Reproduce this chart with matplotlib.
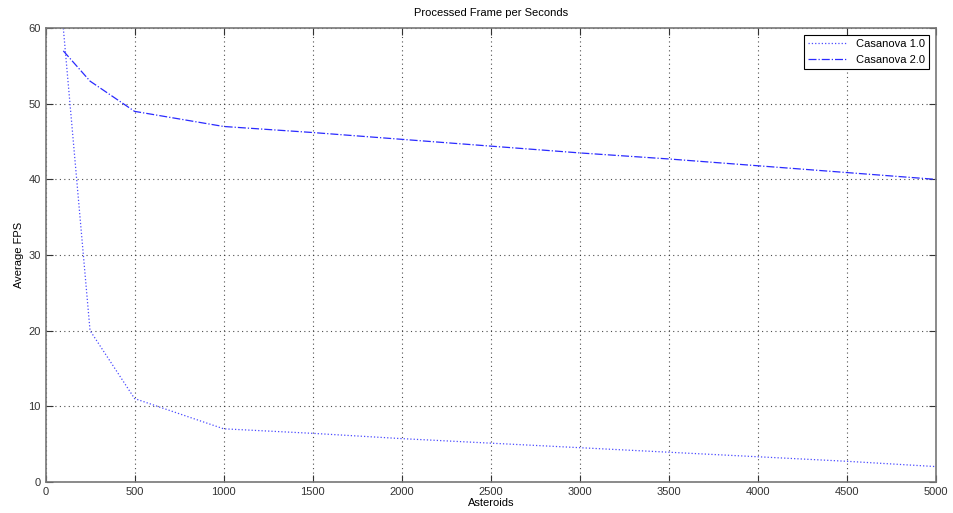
import matplotlib
matplotlib.use('Agg')
import matplotlib.pyplot as plt

plt.rcParams['font.family'] = ['Liberation Sans', 'DejaVu Sans']

asteroids = [100, 250, 500, 1000, 1500, 2000, 2500, 3000, 3500, 4000, 4500, 5000]
fps_v1 = [60, 20, 11, 7, 6.4, 5.7, 5.1, 4.5, 3.9, 3.3, 2.7, 2.0]
fps_v2 = [57, 53, 49, 47, 46.2, 45.3, 44.4, 43.5, 42.7, 41.8, 40.9, 40.0]
series_names = ['Casanova 1.0', 'Casanova 2.0']

fig = plt.figure(figsize=(9.54, 5.13), dpi=100)
ax = fig.add_axes([0.0477, 0.061, 0.9335, 0.884])

ax.plot(asteroids, fps_v1, linestyle=':', color='#4a4aff', linewidth=0.9, label=series_names[0])
ax.plot(asteroids, fps_v2, linestyle='-.', color='#2a2aff', linewidth=0.9, label=series_names[1])

ax.set_xlim(0, 5000)
ax.set_ylim(0, 60)
ax.set_xticks(range(0, 5001, 500))
ax.set_yticks(range(0, 61, 10))
ax.grid(True, linestyle=(0, (1, 3)), color='#222222', linewidth=0.8, alpha=0.8)
ax.tick_params(direction='in', top=True, right=True, labelsize=8, colors='#333333', length=5)
for s in ax.spines.values():
    s.set_color('#777777')
    s.set_linewidth(1.2)

ax.set_title('Processed Frame per Seconds', fontsize=8, pad=9)
ax.set_xlabel('Asteroids', fontsize=8, labelpad=1)
ax.set_ylabel('Average FPS', fontsize=8, labelpad=3)

leg = ax.legend(loc='upper right', fontsize=8, fancybox=False, framealpha=1,
                edgecolor='black', handlelength=3.5, borderaxespad=0.6)
leg.get_frame().set_linewidth(0.8)

fig.savefig('out.png', dpi=100)
